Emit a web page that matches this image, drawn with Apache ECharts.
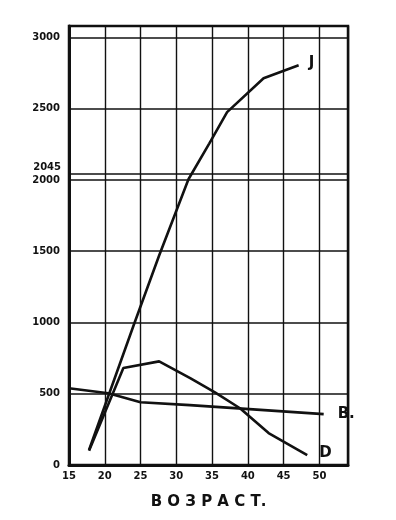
<!DOCTYPE html>
<html><head><meta charset="utf-8">
<script src="https://cdn.jsdelivr.net/npm/echarts@6/dist/echarts.min.js"></script>
<style>html,body{margin:0;padding:0;background:#fff}#c{width:396px;height:520px}</style>
</head><body><div id="c"></div>
<script>
const xTicks = [15, 20, 25, 30, 35, 40, 45, 50];
const yTicks = [0, 500, 1000, 1500, 2000, 2500, 3000];
const extraLine = 2045;
const xName = 'В О З Р А С Т.';
const seriesJ = [[17.8,105],[24,975],[27.6,1470],[31.7,2005],[34.6,2255],[37.1,2476],[42.2,2713],[47.1,2804]];
const seriesD = [[17.8,100],[22.6,680],[27.6,727],[32,608],[35.4,510],[38.9,398],[42.9,224],[48.3,70]];
const seriesB = [[15,538],[20.5,503],[25,440],[31.9,420],[50.6,357]];
const names = ['J', 'D', 'B.'];

const chart = echarts.init(document.getElementById('c'), null, {renderer: 'canvas'});
const font = '"DejaVu Sans", sans-serif';
function mk(name, data, offset) {
  return {
    name, type: 'line', data, showSymbol: false, symbol: 'none',
    lineStyle: {color: '#111', width: 2.6}, smooth: false, animation: false,
    endLabel: {show: true, formatter: name, color: '#111', fontFamily: font, fontSize: 15, fontWeight: 'bold', offset}
  };
}
const sJ = mk(names[0], seriesJ, [2, -2]);
sJ.markLine = {
  silent: true, symbol: 'none', animation: false,
  lineStyle: {color: '#111', width: 1.6, type: 'solid'},
  label: {show: true, position: 'start', formatter: String(extraLine) + '\n ', color: '#111', fontFamily: font, fontSize: 10, fontWeight: 'bold', distance: 8, lineHeight: 12, align: 'right'},
  data: [{yAxis: extraLine}]
};
chart.setOption({
  backgroundColor: '#fff',
  animation: false,
  grid: {left: 69, right: 48, top: 26, bottom: 55, show: true, borderColor: '#111', borderWidth: 2.5, backgroundColor: 'transparent'},
  xAxis: {
    type: 'value', min: 15, max: 54, interval: 5,
    name: xName, nameLocation: 'middle', nameGap: 30,
    nameTextStyle: {color: '#111', fontFamily: font, fontSize: 15, fontWeight: 'bold'},
    axisLine: {show: true, lineStyle: {color: '#111', width: 3}},
    axisTick: {show: false},
    axisLabel: {color: '#111', fontFamily: font, fontSize: 10, fontWeight: 'bold', margin: 6, showMaxLabel: false,
      formatter: v => xTicks.includes(v) ? String(v) : ''},
    splitLine: {show: true, lineStyle: {color: '#111', width: 1.4}}
  },
  yAxis: {
    type: 'value', min: 0, max: 3080, interval: 500,
    axisLine: {show: true, lineStyle: {color: '#111', width: 3}},
    axisTick: {show: false},
    axisLabel: {color: '#111', fontFamily: font, fontSize: 10, fontWeight: 'bold', margin: 9, showMaxLabel: false,
      formatter: v => yTicks.includes(v) ? String(v) : ''},
    splitLine: {show: true, lineStyle: {color: '#111', width: 1.6}}
  },
  series: [sJ, mk(names[1], seriesD, [4, -2]), mk(names[2], seriesB, [6, 0])]
});
</script></body></html>
